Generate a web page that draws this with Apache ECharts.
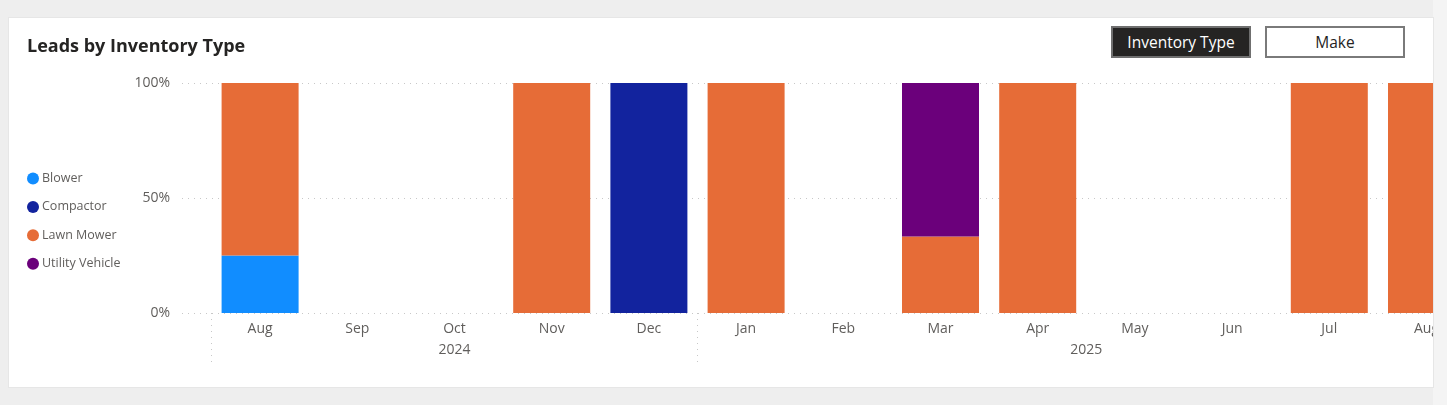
<!DOCTYPE html>
<html>
<head>
<meta charset="utf-8">
<script src="https://cdn.jsdelivr.net/npm/echarts@6/dist/echarts.min.js"></script>
<style>
  html, body { margin: 0; padding: 0; background: #eeeeee; width: 1447px; height: 405px; overflow: hidden; font-family: "Open Sans", "Noto Sans", sans-serif; }
  #strip { position: absolute; left: 1433px; top: 0; width: 14px; height: 405px; background: #f4f4f4; }
  #card { position: absolute; left: 9px; top: 18px; width: 1424px; height: 369px; background: #ffffff; overflow: hidden; box-shadow: 0 0 0 1px #e6e6e6; }
  #chart { position: absolute; left: -9px; top: -18px; width: 1520px; height: 405px; }
  #title { position: absolute; left: 18px; top: 15px; font-size: 18px; font-weight: 700; color: #252423; letter-spacing: 0px; }
  .btn { position: absolute; top: 8px; width: 140px; height: 32px; box-sizing: border-box; border: 2px solid #7a7a7a; font-size: 15.5px; line-height: 28px; text-align: center; }
  #b1 { left: 1102px; background: #252423; color: #ffffff; border-color: #6f6f6f; }
  #b2 { left: 1256px; background: #ffffff; color: #252423; }
</style>
</head>
<body>
<div id="strip"></div>
<div id="card">
  <div id="chart"></div>
  <div id="title">Leads by Inventory Type</div>
  <div class="btn" id="b1">Inventory Type</div>
  <div class="btn" id="b2">Make</div>
</div>
<script>
const months = ['Aug','Sep','Oct','Nov','Dec','Jan','Feb','Mar','Apr','May','Jun','Jul','Aug'];
const years  = ['2024','2024','2024','2024','2024','2025','2025','2025','2025','2025','2025','2025','2025'];
const yTicks = [0, 50, 100];
const blower         = [25, 0, 0, 0,   0,   0,   0, 0,    0,   0, 0, 0,   0];
const compactor      = [0,  0, 0, 0,   100, 0,   0, 0,    0,   0, 0, 0,   0];
const lawnMower      = [75, 0, 0, 100, 0,   100, 0, 33.3, 100, 0, 0, 100, 100];
const utilityVehicle = [0,  0, 0, 0,   0,   0,   0, 66.7, 0,   0, 0, 0,   0];

// year label positions (middle index of each year's months)
const yearMid = {};
years.forEach((y, i) => { if (!yearMid[y]) yearMid[y] = [i, i]; else yearMid[y][1] = i; });
const yearAt = Object.keys(yearMid).map(y => ({ y, mid: (yearMid[y][0] + yearMid[y][1]) / 2 }));
const yearStartIdx = Object.keys(yearMid).map(y => yearMid[y][0]);

const colors = { 'Blower': '#118DFF', 'Compactor': '#12239E', 'Lawn Mower': '#E66C37', 'Utility Vehicle': '#6B007B' };
const font = '"Open Sans", "Noto Sans", sans-serif';
const gray = '#605E5C';

function bar(name, data) {
  return {
    name, type: 'bar', stack: 'total', xAxisIndex: 0, yAxisIndex: 1,
    barWidth: 77, data: data.map(v => v === 0 ? null : v),
    itemStyle: { color: colors[name] }, emphasis: { disabled: true }
  };
}

const chart = echarts.init(document.getElementById('chart'), null, { renderer: 'canvas' });
const catW = 97.2;
chart.setOption({
  animation: false,
  textStyle: { fontFamily: font },
  legend: {
    orient: 'vertical', left: 27, top: 172, padding: 0, itemWidth: 12, itemHeight: 12, itemGap: 15.4,
    icon: 'circle', textStyle: { color: gray, fontSize: 12.5, fontFamily: font, padding: [0, 0, 0, -2] },
    data: ['Blower', 'Compactor', 'Lawn Mower', 'Utility Vehicle']
  },
  grid: [
    { left: 182, top: 83, height: 230, width: 1330 },
    { left: 211.5, top: 83, height: 230, width: catW * months.length }
  ],
  xAxis: [
    {
      type: 'category', gridIndex: 1, data: months, boundaryGap: true,
      axisLine: { show: false },
      axisTick: { show: true, interval: (i) => yearStartIdx.includes(i), length: 49, lineStyle: { color: '#c8c8c8', type: [1, 5] } },
      axisLabel: { interval: 0, color: gray, fontSize: 14, margin: 9, fontFamily: font },
      splitLine: { show: false }
    },
    {
      type: 'value', gridIndex: 1, position: 'bottom', offset: 24, min: -0.5, max: months.length - 0.5, interval: 0.5,
      axisLine: { show: false }, axisTick: { show: false }, splitLine: { show: false },
      axisLabel: {
        color: gray, fontSize: 14, margin: 6, fontFamily: font, showMinLabel: true, showMaxLabel: true,
        formatter: (v) => { const f = yearAt.find(o => Math.abs(o.mid - v) < 0.01); return f ? f.y : ''; }
      }
    },
    { type: 'value', gridIndex: 0, show: false, min: 0, max: 1 }
  ],
  yAxis: [
    {
      type: 'value', gridIndex: 0, min: 0, max: 100, interval: 50,
      axisLine: { show: false }, axisTick: { show: false },
      axisLabel: { color: gray, fontSize: 14, margin: 12, fontFamily: font, formatter: (v) => yTicks.includes(v) ? v + '%' : '' },
      splitLine: { show: true, lineStyle: { color: '#c8c8c8', type: [1, 5], width: 1 } }
    },
    { type: 'value', gridIndex: 1, show: false, min: 0, max: 100 }
  ],
  series: [
    bar('Blower', blower),
    bar('Compactor', compactor),
    bar('Lawn Mower', lawnMower),
    bar('Utility Vehicle', utilityVehicle),
    { type: 'line', xAxisIndex: 2, yAxisIndex: 0, data: [], silent: true }
  ]
});
</script>
</body>
</html>
